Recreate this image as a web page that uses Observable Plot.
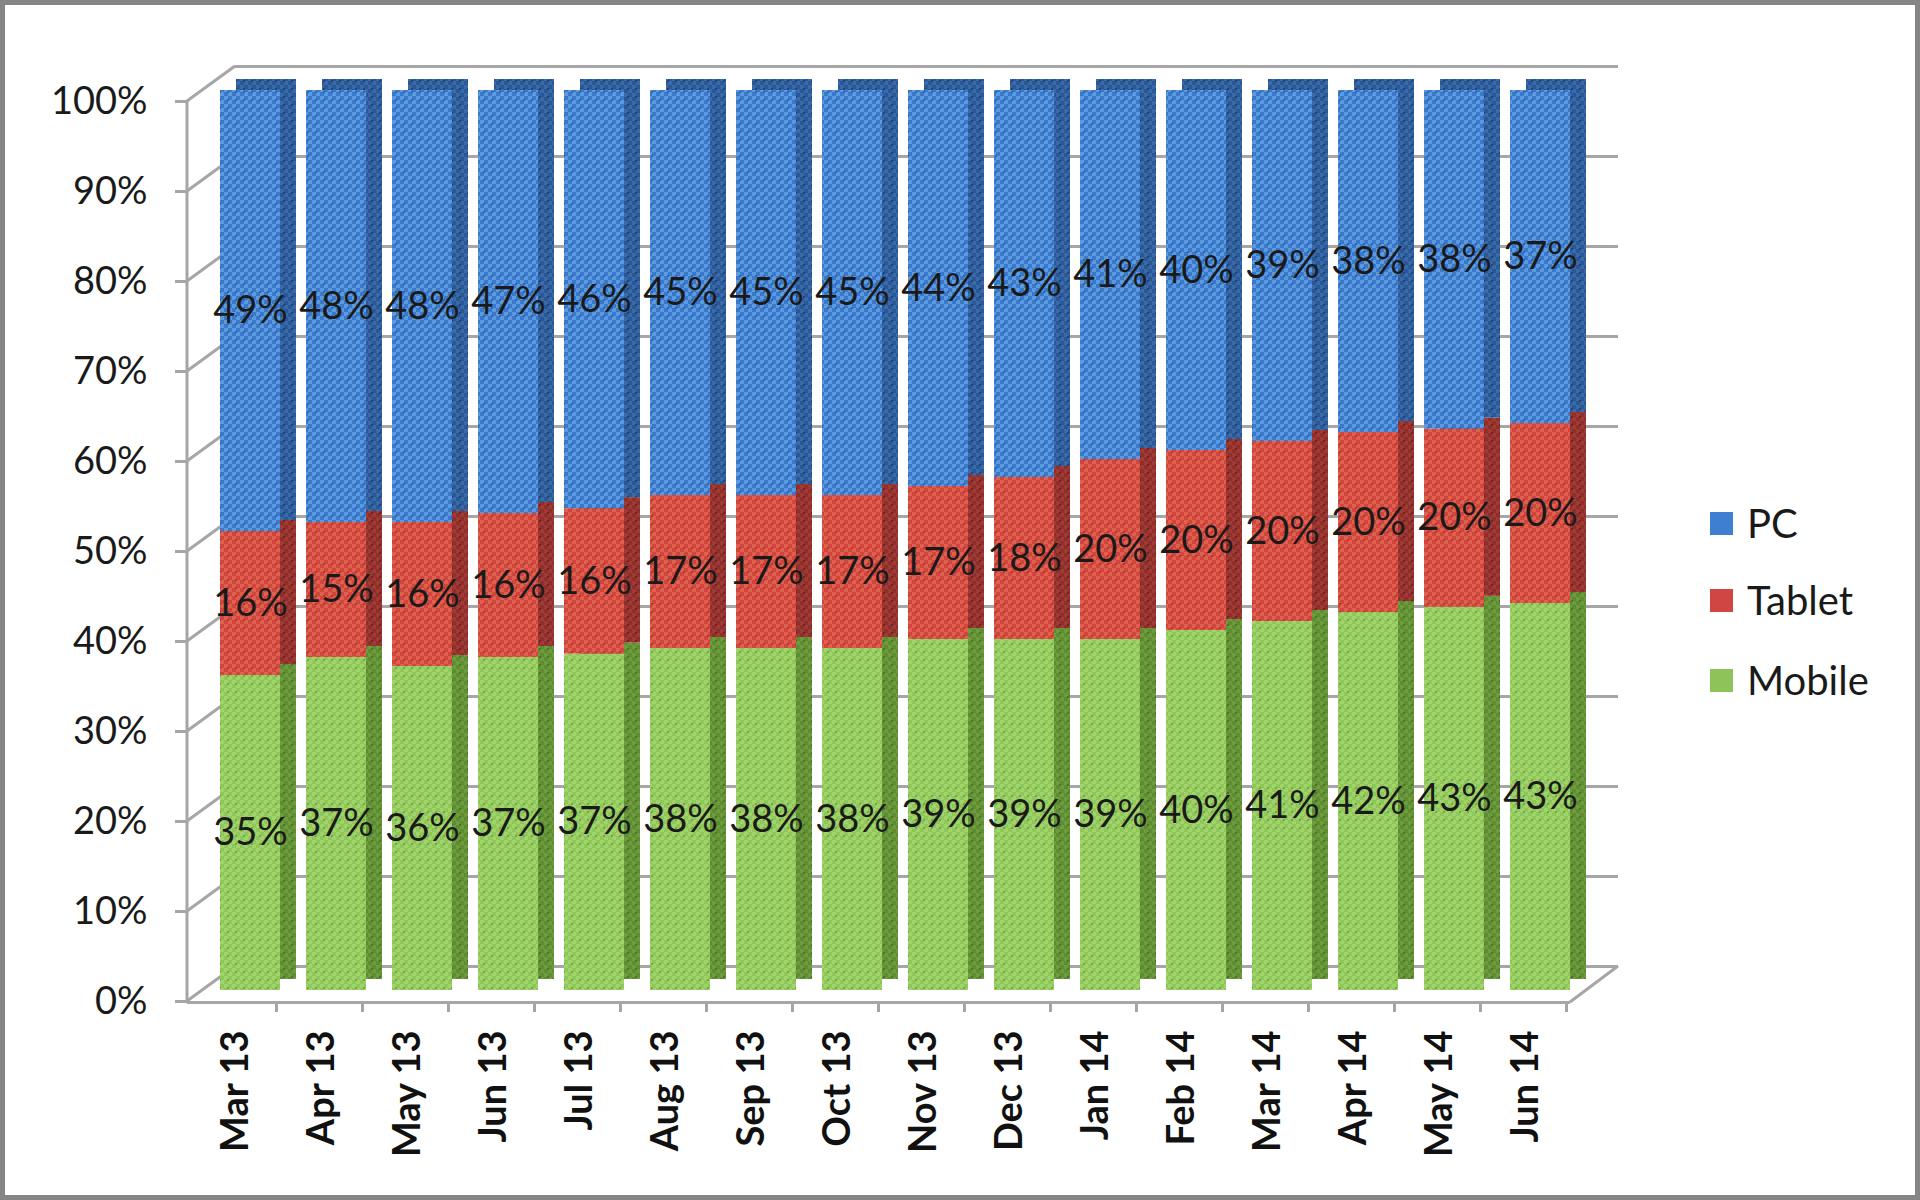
<!DOCTYPE html>
<html>
<head>
<meta charset="utf-8">
<script src="https://cdn.jsdelivr.net/npm/d3@7"></script>
<script src="https://cdn.jsdelivr.net/npm/@observablehq/plot@0.6"></script>
<style>
  html, body { margin: 0; padding: 0; background: #fff; }
  #page { position: relative; width: 1920px; height: 1200px; overflow: hidden; background: #fff; font-family: Lato, "Open Sans", sans-serif; }
  #chart { position: absolute; left: 0; top: 0; }
  #border { position: absolute; left: 0; top: 0; width: 1920px; height: 1200px; box-sizing: border-box; border: 5px solid #858585; pointer-events: none; }
  #legend { position: absolute; left: 1710px; top: 500px; }
  .item { position: absolute; left: 0; display: flex; align-items: center; white-space: nowrap; font-size: 40px; color: #1a1a1a; }
  .sw { width: 23px; height: 23px; margin-right: 14px; }
</style>
</head>
<body>
<div id="page">
  <div id="chart"></div>
  <div id="legend"></div>
  <div id="border"></div>
</div>
<script>
// ---- data ----
const months = ["Mar 13","Apr 13","May 13","Jun 13","Jul 13","Aug 13","Sep 13","Oct 13","Nov 13","Dec 13","Jan 14","Feb 14","Mar 14","Apr 14","May 14","Jun 14"];
const seriesNames = ["PC","Tablet","Mobile"];
const pc     = [49,48,48,47,46,45,45,45,44,43,41,40,39,38,38,37];
const tablet = [16,15,16,16,16,17,17,17,17,18,20,20,20,20,20,20];
const mobile = [35,37,36,37,37,38,38,38,39,39,39,40,41,42,43,43];
const yTicks = [0,0.1,0.2,0.3,0.4,0.5,0.6,0.7,0.8,0.9,1];
const yTickLabels = ["0%","10%","20%","30%","40%","50%","60%","70%","80%","90%","100%"];

const seriesValues = {PC: pc, Tablet: tablet, Mobile: mobile};
const data = months.flatMap((m, i) => ["Mobile","Tablet","PC"].map(s => ({month: m, series: s, value: seriesValues[s][i]})));

// ---- styles ----
const frontFill = {PC: "url(#pcF)", Tablet: "url(#tbF)", Mobile: "url(#mbF)"};
const sideFill  = {PC: "url(#pcS)", Tablet: "url(#tbS)", Mobile: "url(#mbS)"};
const legendColor = {PC: "#3f7fd2", Tablet: "#cf4642", Mobile: "#8ec35a"};
const gridColor = "#a6a6a6";

const stackOpts = {x: "month", y: "value", z: "series", order: ["Mobile","Tablet","PC"], offset: "normalize"};

function frameLines(index, scales, values, dims) {
  const g = d3.create("svg:g").attr("stroke", gridColor).attr("stroke-width", 3).attr("fill", "none");
  const x0 = dims.marginLeft, x1 = dims.width - dims.marginRight;
  const y = scales.y;
  // left axis line
  g.append("line").attr("x1", x0).attr("x2", x0).attr("y1", y(1) + 11).attr("y2", y(0) + 12);
  // oblique connectors to back wall
  for (const v of yTicks) {
    g.append("line").attr("x1", x0).attr("y1", y(v) + 11).attr("x2", x0 + 48).attr("y2", y(v) - 24);
  }
  // floor right edge
  g.append("line").attr("x1", x1).attr("y1", y(0) + 12).attr("x2", x1 + 48).attr("y2", y(0) - 24);
  return g.node();
}

const chart = Plot.plot({
  width: 1920,
  height: 1200,
  marginLeft: 187,
  marginRight: 350,
  marginTop: 90,
  marginBottom: 210,
  style: {fontFamily: "Lato, 'Open Sans', sans-serif", background: "transparent", color: "#1a1a1a"},
  x: {domain: months, paddingInner: 0.305, paddingOuter: 0.174, align: 1, axis: null, label: null},
  y: {domain: [0, 1], axis: null, label: null},
  color: {type: "identity"},
  marks: [
    Plot.ruleY(yTicks, {dx: 48, dy: -24, stroke: gridColor, strokeWidth: 3}),
    frameLines,
    Plot.barY(data, Plot.stackY({...stackOpts, fill: d => sideFill[d.series], dx: 16, dy: -11})),
    Plot.barY(data, Plot.stackY({...stackOpts, fill: d => frontFill[d.series]})),
    Plot.ruleY([0], {dy: 12, stroke: gridColor, strokeWidth: 3}),
    Plot.axisY({ticks: yTicks, label: null, tickFormat: (d) => yTickLabels[yTicks.indexOf(d)], tickSize: 12, tickPadding: 28, dy: 11, fontSize: 38, stroke: gridColor, strokeWidth: 3, fill: "#1a1a1a"}),
    Plot.axisX({label: null, tickSize: 10, dx: 26, dy: 12, tickFormat: () => "", stroke: gridColor, strokeWidth: 3}),
    Plot.axisX({label: null, tickSize: 0, tickPadding: 40, tickRotate: -90, dx: -15, fontSize: 38, fontWeight: "bold", fill: "#111"}),
    Plot.text(data, Plot.stackY({...stackOpts, text: d => d.value + "%", fontSize: 38, fill: "#1a1a1a"}))
  ]
});

// patterns for the textured fills
const defsSpec = [
  ["pcF", "#3a78cc", "#5b9ade", "#2e64b4"],
  ["pcS", "#2a5896", "#3b6aa8", "#1e4478"],
  ["tbF", "#d0463f", "#e0604e", "#b83434"],
  ["tbS", "#8e2f2c", "#a03a34", "#742222"],
  ["mbF", "#8fc85a", "#a2d26a", "#74a848"],
  ["mbS", "#5e8c32", "#6e9c3c", "#4a7426"]
];
const defs = d3.create("svg:defs");
for (const [id, base, light, dark] of defsSpec) {
  const p = defs.append("pattern").attr("id", id).attr("patternUnits", "userSpaceOnUse").attr("width", 8).attr("height", 8);
  p.append("rect").attr("width", 8).attr("height", 8).attr("fill", base);
  p.append("rect").attr("x", 0).attr("y", 0).attr("width", 4).attr("height", 4).attr("fill", light);
  p.append("rect").attr("x", 4).attr("y", 4).attr("width", 4).attr("height", 4).attr("fill", light);
  p.append("rect").attr("x", 3).attr("y", 3).attr("width", 2).attr("height", 2).attr("fill", dark);
}
chart.insertBefore(defs.node(), chart.firstChild);
document.getElementById("chart").appendChild(chart);

// legend
const legend = document.getElementById("legend");
const legendCenters = {PC: 23, Tablet: 100, Mobile: 180};
for (const s of seriesNames) {
  const it = document.createElement("div");
  it.className = "item";
  it.style.top = (legendCenters[s] - 25) + "px";
  it.style.height = "50px";
  const sw = document.createElement("div");
  sw.className = "sw";
  sw.style.background = legendColor[s];
  const t = document.createElement("span");
  t.textContent = s;
  it.appendChild(sw); it.appendChild(t);
  legend.appendChild(it);
}
</script>
</body>
</html>
